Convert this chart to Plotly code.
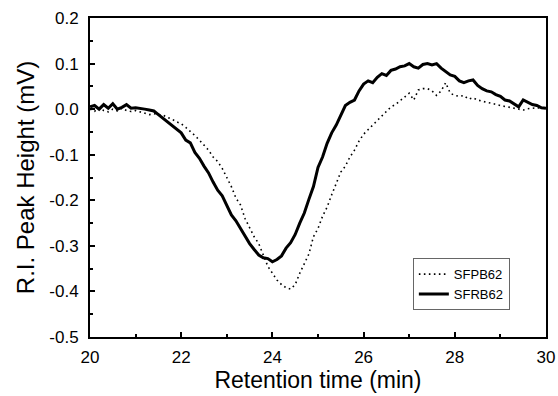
import numpy as np
import plotly.graph_objects as go

time_min = [round(20 + 0.1 * i, 1) for i in range(101)]

sfrb62 = [0.005, 0.008, 0.0, 0.01, 0.002, 0.012, 0.0, 0.004, 0.01, 0.002,
          0.003, 0.002, 0.0, -0.002, -0.004, -0.012, -0.02, -0.028, -0.038, -0.045,
          -0.052, -0.068, -0.074, -0.095, -0.108, -0.125, -0.14, -0.16, -0.178, -0.19,
          -0.212, -0.232, -0.245, -0.262, -0.278, -0.295, -0.308, -0.32, -0.326, -0.328,
          -0.335, -0.33, -0.322, -0.305, -0.293, -0.275, -0.25, -0.228, -0.198, -0.17,
          -0.128, -0.105, -0.075, -0.052, -0.035, -0.015, 0.008, 0.015, 0.02, 0.04,
          0.055, 0.062, 0.058, 0.07, 0.078, 0.074, 0.085, 0.088, 0.093, 0.095,
          0.1, 0.093, 0.09, 0.098, 0.1, 0.097, 0.1, 0.09, 0.082, 0.075,
          0.072, 0.062, 0.058, 0.062, 0.064, 0.052, 0.045, 0.04, 0.038, 0.032,
          0.028, 0.02, 0.018, 0.012, 0.005, 0.02, 0.015, 0.01, 0.008, 0.003,
          0.002]

sfpb62 = [0.0, -0.005, 0.003, -0.003, -0.006, 0.0, -0.004, 0.002, -0.003, -0.005,
          -0.003, -0.006, -0.01, -0.012, -0.01, -0.012, -0.013, -0.018, -0.022, -0.028,
          -0.032, -0.04, -0.048, -0.058, -0.068, -0.08, -0.09, -0.105, -0.115, -0.13,
          -0.15, -0.17, -0.195, -0.21, -0.24, -0.26, -0.28, -0.295, -0.32, -0.345,
          -0.36, -0.375, -0.385, -0.392, -0.395, -0.385, -0.36, -0.34, -0.318, -0.28,
          -0.262, -0.235, -0.215, -0.188, -0.165, -0.138, -0.125, -0.105, -0.09, -0.07,
          -0.055, -0.045, -0.035, -0.025, -0.015, -0.005, 0.005, 0.01, 0.018, 0.028,
          0.035, 0.02, 0.042, 0.045, 0.045, 0.04, 0.03, 0.04, 0.058, 0.035,
          0.03, 0.028, 0.03, 0.022, 0.025, 0.02, 0.017, 0.015, 0.013, 0.01,
          0.008, 0.006, 0.004, 0.003, 0.0, -0.002, 0.001, 0.002, 0.003, 0.002,
          0.002]

x_ticks = [20, 22, 24, 26, 28, 30]
y_ticks = [0.2, 0.1, 0.0, -0.1, -0.2, -0.3, -0.4, -0.5]
y_tick_labels = ["0.2", "0.1", "0.0", "-0.1", "-0.2", "-0.3", "-0.4", "-0.5"]

FONT = "Liberation Sans, Arial, sans-serif"

fig = go.Figure()
fig.add_trace(go.Scatter(x=time_min, y=sfpb62, mode="lines", name="SFPB62",
                         line=dict(color="black", width=1.6, dash="1.6px,3.4px")))
fig.add_trace(go.Scatter(x=time_min, y=sfrb62, mode="lines", name="SFRB62",
                         line=dict(color="black", width=3)))

axis_common = dict(showline=True, mirror=True, linecolor="black", linewidth=2,
                   ticks="inside", tickcolor="black", ticklen=5, tickwidth=1.5,
                   showgrid=False, zeroline=False,
                   tickfont=dict(family=FONT, size=17, color="black"))

fig.update_xaxes(range=[20, 30], tickvals=x_ticks, ticklabelstandoff=4, automargin="bottom",
                 title=dict(text="Retention time (min)", font=dict(family=FONT, size=23, color="black"), standoff=0),
                 minor=dict(dtick=1, ticks="inside", ticklen=3, tickcolor="black", tickwidth=1.5),
                 **axis_common)
fig.update_yaxes(range=[-0.5, 0.2], tickvals=y_ticks, ticktext=y_tick_labels, ticklabelstandoff=6, automargin=False,
                 title=dict(text="R.I. Peak Height (mV)", font=dict(family=FONT, size=24, color="black"), standoff=8),
                 minor=dict(dtick=0.05, ticks="inside", ticklen=3, tickcolor="black", tickwidth=1.5),
                 **axis_common)

fig.update_layout(
    width=558, height=396,
    margin=dict(l=90, r=12, t=18, b=59),
    paper_bgcolor="white", plot_bgcolor="white",
    showlegend=True,
    legend=dict(x=0.708, y=0.247, xanchor="left", yanchor="top",
                bgcolor="white", bordercolor="#666666", borderwidth=1,
                font=dict(family=FONT, size=13, color="black"),
                tracegroupgap=0, itemwidth=30, entrywidth=70),
    font=dict(family=FONT, color="black"),
)

fig.write_html("out.html")
